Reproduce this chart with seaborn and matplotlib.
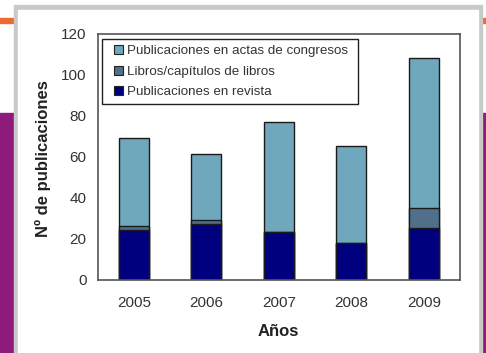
import matplotlib
matplotlib.use("Agg")
import matplotlib.pyplot as plt
from matplotlib.patches import Rectangle, Patch
import numpy as np
import pandas as pd
import seaborn as sns

# Publications per year, split by type
years = ["2005", "2006", "2007", "2008", "2009"]
revista = [24, 27, 23, 18, 25]
libros = [2, 2, 0, 0, 10]
congresos = [43, 32, 54, 47, 73]

labels = ["Publicaciones en actas de congresos",
          "Libros/capítulos de libros",
          "Publicaciones en revista"]
colors = {"congresos": "#6fa7bd", "libros": "#4f6f8b", "revista": "#00007e"}

sns.set_theme(style="white")
plt.rcParams["font.family"] = ["Liberation Sans", "DejaVu Sans"]

W, H = 486, 353
fig = plt.figure(figsize=(W / 100, H / 100), dpi=100)

# Rectangle given in pixel coordinates from the top-left corner of the figure
def px_rect(x0, y0, x1, y1, z, **kw):
    return Rectangle((x0 / W, 1 - y1 / H), (x1 - x0) / W, (y1 - y0) / H,
                     transform=fig.transFigure, zorder=z, **kw)

# Slide background: orange rule, purple side bands, white panel with grey border
for r in [px_rect(0, 18, 14, 23, -10, color="#ec6a2c"),
          px_rect(482, 18, 486, 23, -10, color="#ec6a2c"),
          px_rect(0, 113, 14, 353, -10, color="#8e1a7b"),
          px_rect(482, 113, 486, 353, -10, color="#8e1a7b"),
          px_rect(14, 5, 482, 353, -9, color="#c9c9c9"),
          px_rect(18, 10, 478, 353, -8, color="white")]:
    fig.patches.append(r)

ax = fig.add_axes([97.5 / W, 1 - 279.5 / H, (460 - 97.5) / W, (279.5 - 33.5) / H])
ax.set_facecolor("white")

df = pd.DataFrame({"year": years, "revista": revista,
                   "libros": libros, "congresos": congresos})
df["top_libros"] = df["revista"] + df["libros"]
df["top_total"] = df["top_libros"] + df["congresos"]

# Stacked bars drawn as overlapping cumulative totals
common = dict(x="year", ax=ax, width=0.41, edgecolor="#1a1a1a", linewidth=1.0,
              saturation=1)
sns.barplot(data=df, y="top_total", color=colors["congresos"], **common)
sns.barplot(data=df, y="top_libros", color=colors["libros"], **common)
sns.barplot(data=df, y="revista", color=colors["revista"], **common)

ax.set_ylim(0, 120)
ax.set_xlim(-0.5, 4.5)
ax.set_yticks(np.arange(0, 121, 20))
ax.tick_params(axis="both", length=0, labelsize=11, labelcolor="#333333")
ax.tick_params(axis="y", pad=8)
ax.tick_params(axis="x", pad=12)
for s in ax.spines.values():
    s.set_visible(True)
    s.set_color("#555555")
    s.set_linewidth(1.2)

ax.set_xlabel("Años", fontsize=12, fontweight="bold", color="#222222")
ax.set_ylabel("Nº de publicaciones", fontsize=12, fontweight="bold", color="#222222")
ax.xaxis.set_label_coords(0.5, -0.18)
ax.yaxis.set_label_coords(-0.128, 0.49)

# Legend box
frame = px_rect(102, 39, 358, 104, 4, facecolor="white", edgecolor="#222222",
                linewidth=1.0)
frame.set_clip_on(False)
ax.add_artist(frame)

handles = [Patch(facecolor=colors["congresos"], edgecolor="#222222", linewidth=0.8),
           Patch(facecolor=colors["libros"], edgecolor="#222222", linewidth=0.8),
           Patch(facecolor=colors["revista"], edgecolor="#222222", linewidth=0.8)]
leg = ax.legend(handles, labels, loc="upper left",
                bbox_to_anchor=(114 / W, 1 - 45 / H), bbox_transform=fig.transFigure,
                fontsize=9.6, frameon=False, borderpad=0,
                handlelength=0.68, handleheight=0.68, handletextpad=0.3,
                labelspacing=0.62, borderaxespad=0)
leg.set_zorder(6)
for t in leg.get_texts():
    t.set_color("#333333")

fig.savefig("out.png", dpi=100)
